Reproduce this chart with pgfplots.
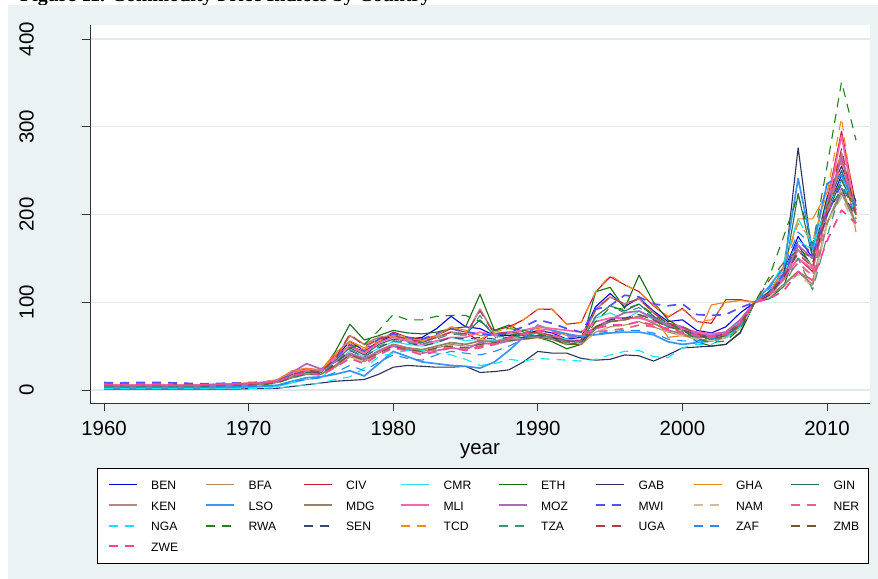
\documentclass[border=0pt]{standalone}
\usepackage{fontspec}
\setmainfont{Liberation Sans}
\newfontfamily\titlefont{Liberation Serif}
\usepackage{pgfplots}
\usepackage{pgfplotstable}
\pgfplotsset{compat=1.18}
\definecolor{bg}{RGB}{234,242,243}
\definecolor{gridc}{RGB}{224,233,237}
\definecolor{cBEN}{RGB}{0,0,220}
\definecolor{cBFA}{RGB}{170,140,100}
\definecolor{cCIV}{RGB}{200,20,60}
\definecolor{cCMR}{RGB}{40,225,235}
\definecolor{cETH}{RGB}{20,110,20}
\definecolor{cGAB}{RGB}{40,50,90}
\definecolor{cGHA}{RGB}{240,130,30}
\definecolor{cGIN}{RGB}{40,110,100}
\definecolor{cKEN}{RGB}{190,130,130}
\definecolor{cLSO}{RGB}{60,150,240}
\definecolor{cMDG}{RGB}{150,130,100}
\definecolor{cMLI}{RGB}{255,100,170}
\definecolor{cMOZ}{RGB}{180,100,190}
\definecolor{cMWI}{RGB}{80,80,255}
\definecolor{cNAM}{RGB}{205,190,150}
\definecolor{cNER}{RGB}{225,100,130}
\definecolor{cNGA}{RGB}{0,235,245}
\definecolor{cRWA}{RGB}{30,130,30}
\definecolor{cSEN}{RGB}{60,70,120}
\definecolor{cTCD}{RGB}{250,140,30}
\definecolor{cTZA}{RGB}{70,140,130}
\definecolor{cUGA}{RGB}{180,60,70}
\definecolor{cZAF}{RGB}{30,140,255}
\definecolor{cZMB}{RGB}{110,90,50}
\definecolor{cZWE}{RGB}{255,70,150}

\pgfplotstableread{
year BEN BFA CIV CMR ETH GAB GHA GIN KEN LSO MDG MLI MOZ MWI NAM NER NGA RWA SEN TCD TZA UGA ZAF ZMB ZWE
1960 4 5 6 2 5 1 6 4 5 3 5 6 5 8.5 5 5 1.5 4 4 6 4 5 3 7 6
1961 4 5 6 2 5 1 6 4 5 3 5 6 5 8 5 5 1.5 4 4 6 4 5 3 7 6
1962 4 5 5.5 2 5 1 5.5 4 5 3 5 5.5 5 8.5 5 5 1.5 4 4 5.5 4 5 3 7 5.5
1963 4 5 6 2 5 1 6 4 5 3 5 6 5 8.5 5 5 1.5 4 4 6 4 5 3 7 6
1964 4 5 6 2 5 1 6 4 5 3 5 6 5 8.5 5 5 1.5 4 4 6 4 5 3 7 6
1965 4 5 5.5 2 5 1 5.5 4 5 3 5 5.5 5 8 5 5 1.5 4 4 5.5 4 5 3 6.5 5.5
1966 4 5 5.5 2 5 1 5.5 4 5 3 5 5.5 5 7.5 5 5 1.5 4 4 5.5 4 5 3 6.5 5.5
1967 4.5 5 6 2 5 1 6 4.5 5 3 5 6 5.5 7 5 5.5 1.5 4 4.5 6 4.5 5 3 6.5 6
1968 5 5.5 6.5 2.5 5.5 1 7 5 5.5 3.5 5.5 6.5 6 7.5 5.5 6 1.5 4.5 5 7 5 5.5 3.5 7 6.5
1969 5.5 6 7 2.5 6 1 7.5 5.5 6 3.5 6 7 6.5 8 6 6.5 1.5 5 5.5 7.5 5.5 6 3.5 7 7
1970 6 6.5 7.5 3 6.5 1.5 8 6 6.5 4 6.5 7.5 7 8.5 6.5 7 2 5.5 6 8 6 6.5 4 7.5 7.5
1971 7 7 8.5 3.5 7 1.5 9 7 7 4.5 7 8.5 8 9 7 7.5 2 6 7 9 7 7 4.5 8 8
1972 9 9 11 4 9 2 12 9 9 5.5 9 11 10 11 9 9.5 2.5 8 9 12 9 9 5 10 10
1973 18 14 20 8 16 4 22 15 16 10 14 19 20 17 14 15 4 14 15 21 15 16 9 16 16
1974 22 18 24 12 22 6 25 20 22 14 18 23 30 22 18 19 6 18 20 24 19 22 12 20 20
1975 21 18 22 14 20 8 23 20 21 15 18 22 24 21 17 18 8 18 19 22 18 21 14 19 17
1976 38 26 40 28 44 10 42 34 36 18 28 38 32 36 26 28 12 30 30 40 32 36 20 28 26
1977 55 38 50 45 75 11 56 48 62 22 40 50 42 52 38 40 15 48 45 54 46 64 28 40 36
1978 45 32 44 38 57 12 48 40 52 16 34 42 36 45 32 34 25 52 38 46 38 50 22 34 30
1979 55 42 55 48 62 18 58 52 60 30 45 54 44 58 42 44 38 68 48 56 50 58 32 42 40
1980 62 50 66 55 68 26 64 58 62 44 52 60 50 64 48 52 42 86 56 62 56 62 40 50 48
1981 58 46 60 52 65 28 60 56 58 38 48 56 46 60 44 48 45 80 54 58 54 58 36 46 45
1982 60 44 58 50 64 27 56 54 56 32 46 52 42 58 42 44 45 80 50 56 52 55 34 44 40
1983 70 48 62 54 66 26 62 60 60 30 50 56 45 64 46 46 42 84 54 62 58 60 40 48 44
1984 84 52 70 60 70 26 72 66 66 28 54 60 48 70 50 48 40 85 60 72 64 66 44 50 48
1985 72 50 66 56 72 27 68 64 62 27 52 60 46 66 48 46 35 85 58 66 62 64 42 48 45
1986 70 52 55 58 109 20 62 80 92 25 56 66 54 64 50 48 28 78 60 58 85 90 40 52 50
1987 62 54 68 56 68 21 64 62 64 32 55 62 52 62 52 52 30 68 58 66 60 64 44 54 52
1988 62 56 72 60 74 23 66 64 66 45 58 66 56 66 56 58 35 70 60 70 62 66 50 56 60
1989 63 58 80 60 66 32 68 62 64 60 58 68 58 72 58 64 33 68 60 80 60 64 58 58 64
1990 68 60 92 65 60 44 70 62 65 74 60 72 62 80 60 66 36 64 62 92 62 66 68 60 68
1991 65 58 92 62 55 42 68 60 62 68 58 70 60 76 58 62 35 60 60 92 60 62 66 58 66
1992 58 52 75 58 47 42 62 54 55 64 52 68 56 70 54 60 34 52 56 75 54 56 62 52 62
1993 60 52 77 56 52 36 62 54 56 61 52 66 55 66 54 60 33 54 55 77 55 57 60 52 62
1994 95 66 112 82 112 34 72 84 92 63 70 78 72 92 66 66 35 78 72 112 84 92 64 72 70
1995 110 72 129 88 117 35 78 96 106 65 78 82 80 96 72 68 40 94 80 131 96 106 66 78 74
1996 95 74 120 80 93 40 80 90 98 66 80 82 88 108 74 70 44 92 82 120 88 98 68 80 74
1997 105 78 112 90 131 39 84 98 104 66 84 82 90 106 78 74 45 98 86 112 94 104 68 86 78
1998 90 72 96 80 100 33 85 84 88 63 76 78 82 98 74 72 38 86 80 97 82 88 65 80 74
1999 78 66 83 72 80 40 60 74 76 55 68 74 74 96 66 68 37 76 72 84 72 76 58 72 70
2000 80 62 93 70 70 48 62 70 72 52 64 70 72 98 62 64 48 68 68 92 68 72 56 68 66
2001 68 58 78 64 55 49 60 62 64 54 58 66 64 86 58 60 52 58 62 78 60 64 56 62 62
2002 65 56 76 60 50 50 97 58 60 56 56 64 62 85 56 58 52 54 60 80 58 60 58 58 60
2003 72 62 103 64 52 52 100 62 64 60 60 66 66 86 60 62 60 56 64 100 62 64 62 62 64
2004 88 72 103 78 66 65 102 74 76 72 70 80 80 94 70 74 72 70 76 102 74 76 76 74 76
2005 100 100 100 100 100 100 100 100 100 100 100 100 100 100 100 100 100 100 100 100 100 100 100 100 100
2006 112 106 108 112 104 112 110 108 108 118 106 108 110 112 106 108 115 129 108 110 104 110 116 125 104
2007 135 120 128 135 118 130 140 128 126 140 120 128 130 132 118 126 145 175 128 140 118 130 140 145 113
2008 175 135 150 170 165 276 195 224 160 241 135 150 165 170 132 145 195 222 158 190 150 155 180 160 135
2009 150 125 135 160 140 150 195 150 140 160 120 138 150 155 118 130 165 165 145 170 114 140 165 150 125
2010 205 190 215 215 200 220 225 210 200 235 190 210 210 200 190 200 210 255 200 225 175 205 235 210 170
2011 245 230 295 250 240 255 270 250 270 245 225 290 265 235 220 260 240 351 230 310 230 275 245 240 205
2012 210 190 210 215 205 215 180 205 200 210 190 200 205 200 185 200 200 285 195 195 210 200 210 200 190
}\data

\newcommand{\lab}[1]{\makebox[53.6bp][l]{\rule[-2bp]{0pt}{13bp}#1}}
\newcommand{\labl}[1]{\makebox[25bp][l]{\rule[-2bp]{0pt}{13bp}#1}}

\tikzset{
  sthn/.style={draw=#1, line width=1.1bp, line join=round, solid},
  sthk/.style={draw=#1, line width=1.7bp, line join=round, solid},
  dthn/.style={draw=#1, line width=1.1bp, line join=round, dash pattern=on 9bp off 7bp},
  dthk/.style={draw=#1, line width=1.7bp, line join=round, dash pattern=on 9bp off 7bp},
}
\pgfplotsset{
  dleg/.style={legend image code/.code={\draw[##1, line width=1.5bp] (0bp,0bp) -- (28bp,0bp);}},
}

\begin{document}
\begin{tikzpicture}
\useasboundingbox (0,0) rectangle (878bp,579bp);
\node[anchor=base west, inner sep=0pt, font=\titlefont\bfseries\fontsize{20}{24}\selectfont] at (20bp,577.5bp) {Figure 11. Commodity Price Indices by Country};
\fill[bg] (8bp,0) rectangle (878bp,574bp);
\begin{axis}[
  at={(90bp,176bp)}, anchor=south west,
  width=780bp, height=378bp, scale only axis,
  xmin=1959.03, xmax=2012.97, ymin=-14.8, ymax=416,
  axis x line*=bottom, axis y line*=left,
  axis line style={black!80, line width=0.8bp, -},
  xtick={1960,1970,...,2010}, ytick={0,100,...,400},
  tick align=outside, major tick length=8bp,
  tick style={black!80, line width=0.8bp},
  ymajorgrids, grid style={gridc, line width=1.3bp},
  axis background/.style={fill=white},
  /pgf/number format/assume math mode=true,
  x tick label style={font=\fontsize{20.5}{24}\selectfont, /pgf/number format/1000 sep={}, yshift=-7bp},
  y tick label style={font=\fontsize{20.5}{24}\selectfont, xshift=-48bp, rotate=90, anchor=south, inner sep=0pt},
  xlabel={year},
  xlabel style={font=\fontsize{20.5}{24}\selectfont, at={(axis description cs:0.5,-0.137)}, anchor=base},
  legend columns=8, legend cell align=left,
  legend image code/.code={\draw[#1, line width=1.3*\pgflinewidth] (0bp,0.5bp) -- (28bp,0.5bp);},
  legend style={at={(0.009,-0.172)}, anchor=north west, draw=black, line width=0.6bp, fill=white,
    font=\fontsize{12.2}{14}\selectfont, inner xsep=10bp, inner ysep=10.5bp,
    row sep=8bp, column sep=0bp, nodes={inner sep=0pt},
    /tikz/every odd column/.append style={column sep=13bp}},
]
\addplot[sthn=cBEN] table[x=year,y=BEN]{\data}; \addlegendentry{\lab{BEN}}
\addplot[sthn=cBFA] table[x=year,y=BFA]{\data}; \addlegendentry{\lab{BFA}}
\addplot[sthn=cCIV] table[x=year,y=CIV]{\data}; \addlegendentry{\lab{CIV}}
\addplot[sthn=cCMR] table[x=year,y=CMR]{\data}; \addlegendentry{\lab{CMR}}
\addplot[sthn=cETH] table[x=year,y=ETH]{\data}; \addlegendentry{\lab{ETH}}
\addplot[sthn=cGAB] table[x=year,y=GAB]{\data}; \addlegendentry{\lab{GAB}}
\addplot[sthn=cGHA] table[x=year,y=GHA]{\data}; \addlegendentry{\lab{GHA}}
\addplot[sthn=cGIN] table[x=year,y=GIN]{\data}; \addlegendentry{\labl{GIN}}
\addplot[sthk=cKEN] table[x=year,y=KEN]{\data}; \addlegendentry{\lab{KEN}}
\addplot[sthk=cLSO] table[x=year,y=LSO]{\data}; \addlegendentry{\lab{LSO}}
\addplot[sthk=cMDG] table[x=year,y=MDG]{\data}; \addlegendentry{\lab{MDG}}
\addplot[sthk=cMLI] table[x=year,y=MLI]{\data}; \addlegendentry{\lab{MLI}}
\addplot[sthk=cMOZ] table[x=year,y=MOZ]{\data}; \addlegendentry{\lab{MOZ}}
\addplot[dthk=cMWI] table[x=year,y=MWI]{\data}; \addlegendentry{\lab{MWI}}
\addplot[dthk=cNAM] table[x=year,y=NAM]{\data}; \addlegendentry{\lab{NAM}}
\addplot[dthk=cNER] table[x=year,y=NER]{\data}; \addlegendentry{\labl{NER}}
\addplot[dthn=cNGA, dleg] table[x=year,y=NGA]{\data}; \addlegendentry{\lab{NGA}}
\addplot[dthn=cRWA, dleg] table[x=year,y=RWA]{\data}; \addlegendentry{\lab{RWA}}
\addplot[dthn=cSEN, dleg] table[x=year,y=SEN]{\data}; \addlegendentry{\lab{SEN}}
\addplot[dthn=cTCD, dleg] table[x=year,y=TCD]{\data}; \addlegendentry{\lab{TCD}}
\addplot[dthn=cTZA, dleg] table[x=year,y=TZA]{\data}; \addlegendentry{\lab{TZA}}
\addplot[dthn=cUGA, dleg] table[x=year,y=UGA]{\data}; \addlegendentry{\lab{UGA}}
\addplot[dthn=cZAF, dleg] table[x=year,y=ZAF]{\data}; \addlegendentry{\lab{ZAF}}
\addplot[dthn=cZMB, dleg] table[x=year,y=ZMB]{\data}; \addlegendentry{\labl{ZMB}}
\addplot[dthk=cZWE] table[x=year,y=ZWE]{\data}; \addlegendentry{\lab{ZWE}}
\end{axis}
\end{tikzpicture}
\end{document}
